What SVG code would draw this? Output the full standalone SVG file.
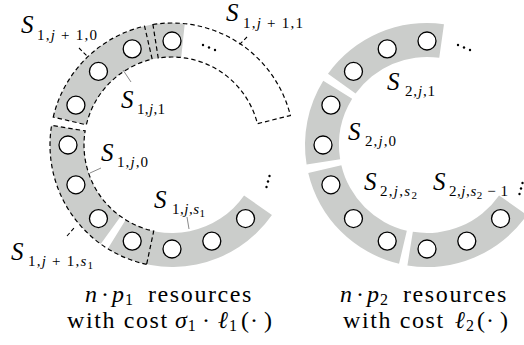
<svg xmlns="http://www.w3.org/2000/svg" width="524" height="345" viewBox="0 0 524 345">
<style>
.seg{fill:#cbcdcb;stroke:none}
.box{fill:none;stroke:#000;stroke-width:1.2;stroke-dasharray:4.5 3}
.res{fill:#fff;stroke:#000;stroke-width:1.3}
.lead{stroke:#8a8a8a;stroke-width:1;fill:none}
.leadd{stroke:#000;stroke-width:1.1;fill:none;stroke-dasharray:4 2.5}
.dot{fill:#000}
text{font-family:"Liberation Serif","Times New Roman",serif;fill:#000}
.S{font-size:25px;font-style:italic}
.sb{font-size:15px}
.i{font-style:italic}
.ss{font-size:11px}
.big{font-size:24px}
.w{letter-spacing:1.6px}
.bs{font-size:16px;font-style:normal}
.m{text-anchor:middle}
</style>
<defs>
<circle id="r" r="9" class="res"/>
</defs>

<g id="ring1">
  <path class="seg" d="M53.25,117.04 A122,122 0 0 1 184.75,23.67 L181.2,57.48 A88,88 0 0 0 86.34,124.83 Z"/>
  <path class="seg" d="M100.72,244.01 A122,122 0 0 1 51.59,125.39 L85.14,130.85 A88,88 0 0 0 120.59,216.42 Z"/>
  <path class="seg" d="M271.94,214.98 A122,122 0 0 1 107.8,248.74 L125.69,219.83 A88,88 0 0 0 244.09,195.47 Z"/>
  <g id="ring1-resources">
    <use href="#r" x="172" y="41"/>
    <use href="#r" x="132.2" y="48.92"/>
    <use href="#r" x="98.46" y="71.46"/>
    <use href="#r" x="75.92" y="105.2"/>
    <use href="#r" x="68" y="145"/>
    <use href="#r" x="75.92" y="184.8"/>
    <use href="#r" x="98.46" y="218.54"/>
    <use href="#r" x="132.2" y="241.08"/>
    <use href="#r" x="172" y="249"/>
    <use href="#r" x="211.8" y="241.08"/>
    <use href="#r" x="245.54" y="218.54"/>
  </g>
  <g id="ring1-dashed">
    <path class="box" d="M53.25,117.04 A122,122 0 0 1 144.56,26.13 L152.2,59.26 A88,88 0 0 0 86.34,124.83 Z"/>
    <path class="box" d="M152.92,24.5 A122,122 0 0 1 290.38,115.49 L257.39,123.71 A88,88 0 0 0 158.23,58.08 Z"/>
    <path class="box" d="M146.63,264.33 A122,122 0 0 1 51.59,125.39 L85.14,130.85 A88,88 0 0 0 153.7,231.08 Z"/>
  </g>
  <g id="ring1-dots">
    <circle class="dot" cx="203" cy="45" r="1.2"/>
    <circle class="dot" cx="209" cy="47.5" r="1.2"/>
    <circle class="dot" cx="215" cy="50" r="1.2"/>
    <circle class="dot" cx="269.5" cy="176" r="1.2"/>
    <circle class="dot" cx="268" cy="181.5" r="1.2"/>
    <circle class="dot" cx="266.5" cy="187" r="1.2"/>
  </g>
</g>

<g id="ring2">
  <path class="seg" d="M327.99,73.72 A122,122 0 0 1 443.98,24.19 L439.25,57.86 A88,88 0 0 0 355.58,93.59 Z"/>
  <path class="seg" d="M306.59,164.61 A122,122 0 0 1 323.26,80.8 L352.17,98.69 A88,88 0 0 0 340.14,159.15 Z"/>
  <path class="seg" d="M399.04,263.75 A122,122 0 0 1 308.25,172.96 L341.34,165.17 A88,88 0 0 0 406.83,230.66 Z"/>
  <path class="seg" d="M526.94,214.98 A122,122 0 0 1 407.39,265.41 L412.85,231.86 A88,88 0 0 0 499.09,195.47 Z"/>
  <g id="ring2-resources">
    <use href="#r" x="427" y="41"/>
    <use href="#r" x="387.2" y="48.92"/>
    <use href="#r" x="353.46" y="71.46"/>
    <use href="#r" x="330.92" y="105.2"/>
    <use href="#r" x="323" y="145"/>
    <use href="#r" x="330.92" y="184.8"/>
    <use href="#r" x="353.46" y="218.54"/>
    <use href="#r" x="387.2" y="241.08"/>
    <use href="#r" x="427" y="249"/>
    <use href="#r" x="466.8" y="241.08"/>
    <use href="#r" x="500.54" y="218.54"/>
  </g>
  <g id="ring2-dots">
    <circle class="dot" cx="458" cy="45" r="1.2"/>
    <circle class="dot" cx="464" cy="47.5" r="1.2"/>
    <circle class="dot" cx="470" cy="50" r="1.2"/>
    <circle class="dot" cx="522.5" cy="183" r="1.2"/>
    <circle class="dot" cx="521" cy="188.5" r="1.2"/>
    <circle class="dot" cx="519.5" cy="194" r="1.2"/>
  </g>
</g>

<g id="connectors">
  <line class="leadd" x1="79" y1="48" x2="88" y2="57"/>
  <line class="leadd" x1="247" y1="37" x2="239" y2="45"/>
  <line class="lead" x1="123" y1="70" x2="131" y2="82"/>
  <line class="lead" x1="90" y1="173" x2="101" y2="168"/>
  <line class="lead" x1="187" y1="217" x2="189" y2="229"/>
  <line class="leadd" x1="67" y1="236" x2="74" y2="228"/>
</g>

<g id="labels">
  <g id="lbl-S1j10"><text class="S" x="21" y="33">S</text><text class="sb" x="37" y="40" textLength="60">1,<tspan class="i">j</tspan> + 1,0</text></g>
  <g id="lbl-S1j11"><text class="S" x="226" y="21">S</text><text class="sb" x="243" y="28" textLength="60">1,<tspan class="i">j</tspan> + 1,1</text></g>
  <g id="lbl-S1j1"><text class="S" x="121" y="108">S</text><text class="sb" x="137" y="114" textLength="28">1,<tspan class="i">j</tspan>,1</text></g>
  <g id="lbl-S1j0"><text class="S" x="101" y="161">S</text><text class="sb" x="117" y="167" textLength="31">1,<tspan class="i">j</tspan>,0</text></g>
  <g id="lbl-S1js1"><text class="S" x="154" y="208">S</text><text class="sb" x="172" y="214" textLength="33">1,<tspan class="i">j</tspan>,<tspan class="i">s</tspan><tspan class="ss" dy="3">1</tspan></text></g>
  <g id="lbl-S1j1s1"><text class="S" x="11" y="260">S</text><text class="sb" x="28" y="266" textLength="65">1,<tspan class="i">j</tspan> + 1,<tspan class="i">s</tspan><tspan class="ss" dy="3">1</tspan></text></g>
  <g id="lbl-S2j1"><text class="S" x="387" y="90">S</text><text class="sb" x="405" y="96" textLength="30">2,<tspan class="i">j</tspan>,1</text></g>
  <g id="lbl-S2j0"><text class="S" x="348" y="140">S</text><text class="sb" x="365" y="146" textLength="31">2,<tspan class="i">j</tspan>,0</text></g>
  <g id="lbl-S2js2"><text class="S" x="364" y="190">S</text><text class="sb" x="380" y="196" textLength="37">2,<tspan class="i">j</tspan>,<tspan class="i">s</tspan><tspan class="ss" dy="3">2</tspan></text></g>
  <g id="lbl-S2js21"><text class="S" x="433" y="190">S</text><text class="sb" x="449" y="196" textLength="59">2,<tspan class="i">j</tspan>,<tspan class="i">s</tspan><tspan class="ss" dy="3">2</tspan><tspan dy="-3"> − 1</tspan></text></g>
</g>

<g id="caption1">
  <text class="big i" x="85" y="302">n</text>
  <text class="big m" x="105" y="302">·</text>
  <text class="big i" x="112" y="302">p<tspan class="bs" dx="1" dy="3">1</tspan></text>
  <text class="big w" x="148" y="302">resources</text>
  <text class="big w" x="67" y="328">with cost</text>
  <text class="big i" x="175" y="328">σ<tspan class="bs" dx="1" dy="3">1</tspan></text>
  <text class="big m" x="206" y="328">·</text>
  <text class="big i" x="218" y="328">ℓ<tspan class="bs" dx="1" dy="3">1</tspan></text>
  <text class="big" x="241" y="328">(</text>
  <text class="big m" x="254" y="328">·</text>
  <text class="big" x="264" y="328">)</text>
</g>
<g id="caption2">
  <text class="big i" x="340" y="302">n</text>
  <text class="big m" x="360" y="302">·</text>
  <text class="big i" x="367" y="302">p<tspan class="bs" dx="1" dy="3">2</tspan></text>
  <text class="big w" x="403" y="302">resources</text>
  <text class="big w" x="343" y="328">with cost</text>
  <text class="big i" x="455" y="328">ℓ<tspan class="bs" dx="1" dy="3">2</tspan></text>
  <text class="big" x="477" y="328">(</text>
  <text class="big m" x="490" y="328">·</text>
  <text class="big" x="500" y="328">)</text>
</g>
</svg>
